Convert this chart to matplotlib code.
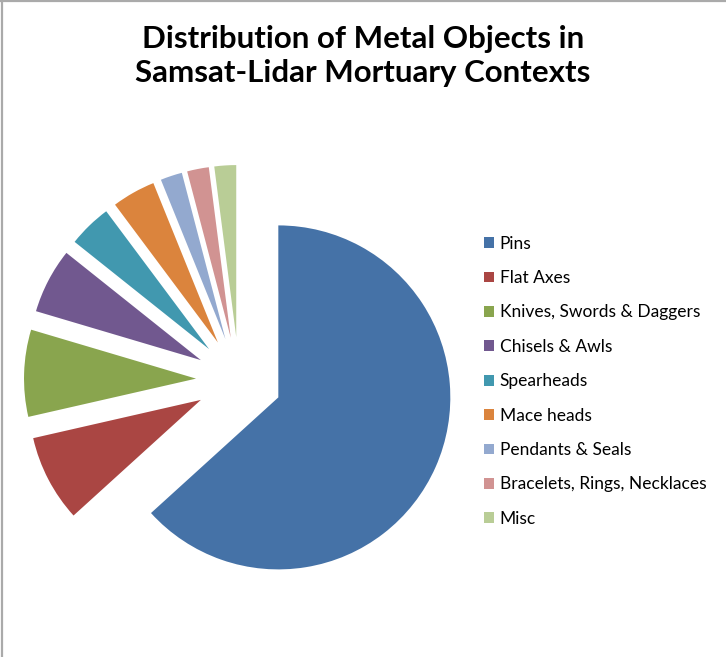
import matplotlib
matplotlib.use("Agg")
from matplotlib import pyplot as plt
from matplotlib.lines import Line2D

categories = ["Pins", "Flat Axes", "Knives, Swords & Daggers", "Chisels & Awls",
              "Spearheads", "Mace heads", "Pendants & Seals",
              "Bracelets, Rings, Necklaces", "Misc"]
counts = [31, 4, 4, 3, 2, 2, 1, 1, 1]
colors = ["#4572A7", "#AA4643", "#89A54E", "#71588F", "#4198AF",
          "#DB843D", "#93A9CF", "#D19392", "#B9CD96"]

W, H = 726, 657
fig = plt.figure(figsize=(W / 100, H / 100), dpi=100)
fig.patch.set_facecolor("white")

# pie centre and radius in pixels
cx, cy, r = 239, 380, 172
ax = fig.add_axes([0, 0, 1, 1])
wedges, _ = ax.pie(counts, colors=colors, startangle=90, counterclock=False,
                   explode=[0.25] * len(counts),
                   wedgeprops=dict(linewidth=0))
ax.set_aspect("auto")
ax.set_xlim(-cx / r, (W - cx) / r)
ax.set_ylim(-(H - cy) / r, cy / r)
ax.axis("off")

fig.text(0.5, 1 - 56 / H, "Distribution of Metal Objects in\nSamsat-Lidar Mortuary Contexts",
         ha="center", va="center", fontsize=22.5, fontweight="bold",
         family="Lato", linespacing=1.22)

fig.legend(wedges, categories, loc="upper left",
           bbox_to_anchor=(468 / W, 1 - 220 / H), frameon=False,
           prop=dict(family="Lato", size=12.5),
           handlelength=0.58, handleheight=0.58, handletextpad=0.35,
           labelspacing=1.06)

# chart frame: left and top edges only
fig.add_artist(Line2D([1.5 / W, 1.5 / W], [0, 1], color="#AAAAAA", lw=1.6))
fig.add_artist(Line2D([0, 1], [1 - 1 / H, 1 - 1 / H], color="#AAAAAA", lw=1.6))

fig.savefig("out.png", dpi=100)
